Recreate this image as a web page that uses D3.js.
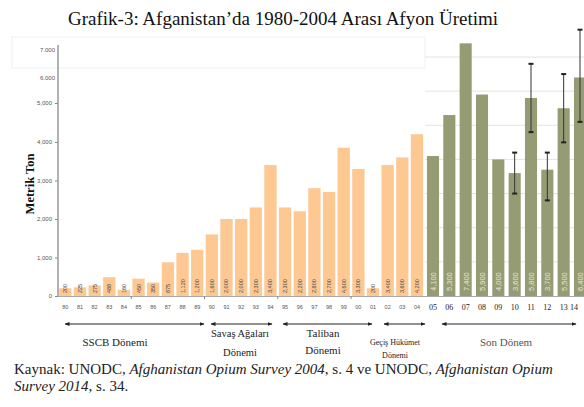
<!DOCTYPE html>
<html>
<head>
<meta charset="utf-8">
<script type="text/javascript" src="https://d3js.org/d3.v7.min.js"></script>
<style>
    body { margin: 0; padding: 0; background: #ffffff; }
</style>
</head>
<body>
<div id="chart"></div>
<script>
    // yillar ve uretim (ton)
    var oldYears = ["80","81","82","83","84","85","86","87","88","89","90","91","92","93","94","95","96","97","98","99","00","01","02","03","04"];
    var oldValues = [200,225,275,488,160,450,350,875,1120,1200,1600,2000,2000,2300,3400,2300,2200,2800,2700,3850,3300,200,3400,3600,4200];
    var oldLabels = ["200","225","275","488","160","450","350","875","1,120","1,200","1,600","2,000","2,000","2,300","3,400","2,300","2,200","2,800","2,700","4,600","3,300","200","3,400","3,600","4,200"];

    var newYears = ["05","06","07","08","09","10","11","12","13","14"];
    var newValues = [4100,5300,7400,5900,4000,3600,5800,3700,5500,6400];
    var newLabels = ["4,100","5,300","7,400","5,900","4,000","3,600","5,800","3,700","5,500","6,400"];

    // hata araliklari 2010-2014
    var errYears = ["10","11","12","13","14"];
    var errLow = [3000,4800,2800,4500,5100];
    var errHigh = [4200,6800,4200,6500,7800];

    var yTicks = [0,1000,2000,3000,4000,5000,6000,7000];
    var yTickLabels = ["0","1,000","2,000","3,000","4,000","5,000","6.000","7.000"];
    var gridValues = [1000,2000,3000,4000,5000,6000,7000];

    var periods = [
        { from: 65, to: 204, cx: 115, lines: ["SSCB Dönemi"], y: [346], size: 11 },
        { from: 211, to: 272, cx: 240, lines: ["Savaş Ağaları", "Dönemi"], y: [337, 356], size: 10.5 },
        { from: 283, to: 372, cx: 323, lines: ["Taliban", "Dönemi"], y: [337, 354], size: 11 },
        { from: 384, to: 425, cx: 395, lines: ["Geçiş Hükümet", "Dönemi"], y: [345, 358], size: 8 },
        { from: 442, to: 576, cx: 506, lines: ["Son Dönem"], y: [346], size: 11 }
    ];

    var serif = "'Liberation Serif', 'Times New Roman', serif";
    var sans = "'Liberation Sans', Arial, sans-serif";

    var width = 584, height = 407;

    var svg = d3.select("#chart").append("svg")
        .attr("width", width)
        .attr("height", height);

    var defs = svg.append("defs");
    defs.append("marker").attr("id", "arrE")
        .attr("viewBox", "0 0 10 10").attr("refX", 9).attr("refY", 5)
        .attr("markerWidth", 5).attr("markerHeight", 5).attr("orient", "auto")
        .append("path").attr("d", "M0,1L10,5L0,9z").attr("fill", "#222");
    defs.append("marker").attr("id", "arrS")
        .attr("viewBox", "0 0 10 10").attr("refX", 1).attr("refY", 5)
        .attr("markerWidth", 5).attr("markerHeight", 5).attr("orient", "auto")
        .append("path").attr("d", "M10,1L0,5L10,9z").attr("fill", "#222");

    // soluk cerceve
    svg.append("rect").attr("x", 12).attr("y", 37).attr("width", 413).attr("height", 31)
        .attr("fill", "none").attr("stroke", "#f0f0f0");

    // olcekler
    var baseY = 296;
    var yOld = d3.scaleLinear().domain([0,4000,5000,6000,7000]).range([baseY,142,103,78,50]);
    var yNew = d3.scaleLinear().domain([0,7000]).range([baseY, 57]);
    var xOld = d3.scaleBand().domain(oldYears).range([58, 424.3]).paddingInner(0.16).paddingOuter(0.08);
    var xNew = d3.scaleBand().domain(newYears).range([425, 588]).paddingInner(0.26).paddingOuter(0.12);

    // baslik
    svg.append("text")
        .attr("x", 283).attr("y", 25).attr("text-anchor", "middle")
        .style("font-family", serif).style("font-size", "19px").style("fill", "#111")
        .text("Grafik-3: Afganistan’da 1980-2004 Arası Afyon Üretimi");

    // yeni donem izgara
    svg.selectAll("line.grid").data(gridValues).enter().append("line")
        .attr("class", "grid")
        .attr("x1", 425).attr("x2", width)
        .attr("y1", function(d) { return yNew(d); })
        .attr("y2", function(d) { return yNew(d); })
        .attr("stroke", "#e3e3e3").attr("stroke-width", 1);

    // sol eksen
    var yAxis = d3.axisLeft(yOld).tickValues(yTicks)
        .tickFormat(function(d, i) { return yTickLabels[i]; })
        .tickSize(3).tickPadding(3);
    var gy = svg.append("g").attr("transform", "translate(58,0)").call(yAxis);
    gy.select(".domain").remove();
    gy.selectAll(".tick line").attr("stroke", "#888")
        .attr("opacity", function(d) { return d > 5000 ? 0 : 1; });
    gy.selectAll(".tick text")
        .attr("dx", function(d) { return d > 5000 ? 3 : 0; })
        .style("font-family", sans).style("font-size", "6px").style("fill", "#555");
    svg.append("line").attr("x1", 58).attr("x2", 58).attr("y1", 45).attr("y2", baseY)
        .attr("stroke", "#999").attr("stroke-width", 1.5);

    svg.append("text")
        .attr("transform", "translate(34,184) rotate(-90)")
        .attr("text-anchor", "middle")
        .style("font-family", serif).style("font-size", "12.5px")
        .style("font-weight", "bold").style("fill", "#111")
        .text("Metrik Ton");

    // eski donem cubuklari
    svg.selectAll("rect.old").data(oldValues).enter().append("rect")
        .attr("class", "old")
        .attr("x", function(d, i) { return xOld(oldYears[i]); })
        .attr("width", xOld.bandwidth())
        .attr("y", function(d) { return yOld(d); })
        .attr("height", function(d) { return baseY - yOld(d); })
        .attr("fill", "#fec893");

    svg.selectAll("text.olabel").data(oldLabels).enter().append("text")
        .attr("class", "olabel")
        .attr("transform", function(d, i) {
            return "translate(" + (xOld(oldYears[i]) + xOld.bandwidth() / 2 + 2) + "," + (baseY - 3) + ") rotate(-90)";
        })
        .style("font-family", sans).style("font-size", "5.5px").style("fill", "#444")
        .text(function(d) { return d; });

    // yeni donem cubuklari
    svg.selectAll("rect.new").data(newValues).enter().append("rect")
        .attr("class", "new")
        .attr("x", function(d, i) { return xNew(newYears[i]); })
        .attr("width", xNew.bandwidth())
        .attr("y", function(d) { return yNew(d); })
        .attr("height", function(d) { return baseY - yNew(d); })
        .attr("fill", "#959c74");

    svg.selectAll("text.glabel").data(newLabels).enter().append("text")
        .attr("class", "glabel")
        .attr("transform", function(d, i) {
            return "translate(" + (xNew(newYears[i]) + xNew.bandwidth() / 2 + 3) + "," + (baseY - 5) + ") rotate(-90)";
        })
        .style("font-family", sans).style("font-size", "7.5px").style("fill", "#e6e6da")
        .text(function(d) { return d; });

    // hata cubuklari
    var eb = svg.selectAll("g.err").data(errYears).enter().append("g").attr("class", "err")
        .attr("transform", function(d) { return "translate(" + (xNew(d) + xNew.bandwidth() / 2) + ",0)"; });
    eb.append("line").attr("x1", 0).attr("x2", 0)
        .attr("y1", function(d, i) { return yNew(errHigh[i]); })
        .attr("y2", function(d, i) { return yNew(errLow[i]); })
        .attr("stroke", "#333").attr("stroke-width", 1);
    eb.append("line").attr("x1", -2.5).attr("x2", 2.5)
        .attr("y1", function(d, i) { return yNew(errHigh[i]); })
        .attr("y2", function(d, i) { return yNew(errHigh[i]); })
        .attr("stroke", "#222").attr("stroke-width", 2);
    eb.append("line").attr("x1", -2.5).attr("x2", 2.5)
        .attr("y1", function(d, i) { return yNew(errLow[i]); })
        .attr("y2", function(d, i) { return yNew(errLow[i]); })
        .attr("stroke", "#222").attr("stroke-width", 2);

    // x ekseni
    svg.append("line").attr("x1", 58).attr("x2", width).attr("y1", baseY + 0.5).attr("y2", baseY + 0.5)
        .attr("stroke", "#aaa").attr("stroke-width", 1);
    svg.selectAll("line.xt").data(oldYears.filter(function(d, i) { return i % 5 === 0 && i > 0; }))
        .enter().append("line").attr("class", "xt")
        .attr("x1", function(d) { return xOld(d) - xOld.step() * xOld.paddingInner() / 2; })
        .attr("x2", function(d) { return xOld(d) - xOld.step() * xOld.paddingInner() / 2; })
        .attr("y1", baseY).attr("y2", baseY + 3)
        .attr("stroke", "#888");

    svg.selectAll("text.oyear").data(oldYears).enter().append("text")
        .attr("class", "oyear")
        .attr("x", function(d) { return xOld(d) + xOld.bandwidth() / 2; })
        .attr("y", 309).attr("text-anchor", "middle")
        .style("font-family", sans).style("font-size", "5.5px").style("fill", "#555")
        .text(function(d) { return d; });

    svg.selectAll("text.gyear").data(newYears).enter().append("text")
        .attr("class", "gyear")
        .attr("x", function(d, i) { return Math.min(xNew(d) + xNew.bandwidth() / 2, 574); })
        .attr("y", 310).attr("text-anchor", "middle")
        .style("font-family", serif).style("font-size", "8px").style("fill", "#222")
        .text(function(d) { return d; });

    // donem oklari
    svg.selectAll("line.per").data(periods).enter().append("line")
        .attr("class", "per")
        .attr("x1", function(d) { return d.from; })
        .attr("x2", function(d) { return d.to; })
        .attr("y1", 324).attr("y2", 324)
        .attr("stroke", "#222").attr("stroke-width", 1)
        .attr("marker-start", "url(#arrS)")
        .attr("marker-end", "url(#arrE)");

    periods.forEach(function(p, k) {
        p.lines.forEach(function(t, j) {
            svg.append("text")
                .attr("x", p.cx).attr("y", p.y[j])
                .attr("text-anchor", "middle")
                .style("font-family", serif)
                .style("font-size", p.size + "px")
                .style("fill", k === 4 ? "#555" : "#222")
                .text(t);
        });
    });

    // kaynak
    var s1 = svg.append("text").attr("x", 14).attr("y", 374)
        .style("font-family", serif).style("font-size", "15px").style("fill", "#222");
    s1.append("tspan").text("Kaynak: UNODC, ");
    s1.append("tspan").style("font-style", "italic").text("Afghanistan Opium Survey 2004");
    s1.append("tspan").text(", s. 4 ve UNODC, ");
    s1.append("tspan").style("font-style", "italic").text("Afghanistan Opium");
    var s2 = svg.append("text").attr("x", 14).attr("y", 391)
        .style("font-family", serif).style("font-size", "15px").style("fill", "#222");
    s2.append("tspan").style("font-style", "italic").text("Survey 2014");
    s2.append("tspan").text(", s. 34.");
</script>
</body>
</html>
